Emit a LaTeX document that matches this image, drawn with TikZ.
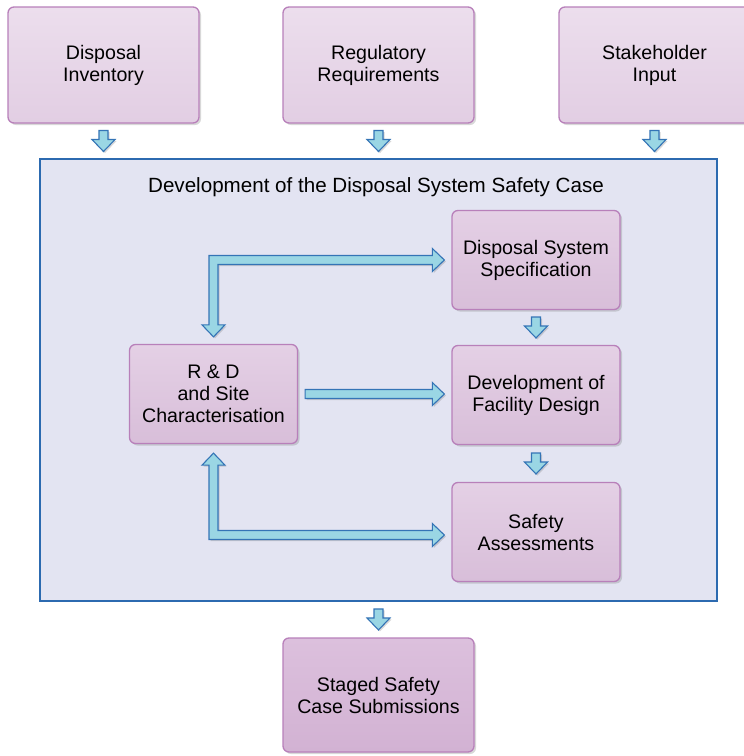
\documentclass[tikz,border=0pt]{standalone}
\usepackage{fontspec}
\setmainfont{Liberation Sans}
\usetikzlibrary{calc,shadows}
\definecolor{boxline}{RGB}{184,128,186}
\definecolor{boxtop}{RGB}{236,222,237}
\definecolor{boxbot}{RGB}{226,206,227}
\definecolor{innertop}{RGB}{228,208,229}
\definecolor{innerbot}{RGB}{216,190,217}
\definecolor{stagetop}{RGB}{220,192,221}
\definecolor{stagebot}{RGB}{210,178,211}
\definecolor{casefill}{RGB}{227,228,242}
\definecolor{caseline}{RGB}{44,106,176}
\definecolor{arrowfill}{RGB}{154,214,228}
\definecolor{arrowline}{RGB}{52,116,182}
\tikzset{
	box/.style={draw=boxline, line width=1.3pt, rounded corners=6pt, top color=boxtop, bottom color=boxbot, align=center, font=\fontsize{19.6}{22}\selectfont, drop shadow={shadow xshift=2pt, shadow yshift=-2pt, opacity=0.25, fill=black!60}},
	topbox/.style={box, minimum width=191pt, minimum height=116pt},
	innerbox/.style={box, top color=innertop, bottom color=innerbot, minimum width=168pt, minimum height=99pt},
	fatarrow/.style={draw=arrowline, fill=arrowfill, line width=1.1pt, line join=miter, drop shadow={shadow xshift=1.5pt, shadow yshift=-1.5pt, opacity=0.25, fill=black!60}},
}
\def\dnarrow#1{\draw[fatarrow, shift={#1}] (-4.5,-10.5) -- ++(9,0) -- ++(0,9) -- ++(7,0) -- ++(-11.5,12) -- ++(-11.5,-12) -- ++(7,0) -- cycle;}

\begin{document}
\begin{tikzpicture}[x=1pt, y=-1pt]
			%%%%% START %%%%%
			\useasboundingbox[fill=white] (0,0) rectangle (744,756);
			
			\node[topbox] (inv) at (103.5,65) {Disposal\\Inventory};
			\node[topbox] (reg) at (378.5,65) {Regulatory\\Requirements};
			\node[topbox] (stake) at (654.5,65) {Stakeholder\\Input};
			
			\node[draw=caseline, fill=casefill, line width=1.2pt, minimum width=677pt, minimum height=442pt] (case) at (378.5,380) {};
			\node[font=\fontsize{20.6}{23}\selectfont] (title) at (376,187) {Development of the Disposal System Safety Case};
			
			\node[innerbox] (spec) at (536,260) {Disposal System\\Specification};
			\node[innerbox] (fac) at (536,395) {Development of\\Facility Design};
			\node[innerbox] (safe) at (536,532) {Safety\\Assessments};
			\node[innerbox] (rd) at (213.5,394) {R \& D\\and Site\\Characterisation};
			
			\node[topbox, top color=stagetop, bottom color=stagebot, minimum height=114pt] (staged) at (378.5,695) {Staged Safety\\Case Submissions};
			
			% inputs and output
			\dnarrow{($(inv.south)!0.5!(inv.south|-case.north)$)}
			\dnarrow{($(reg.south)!0.5!(reg.south|-case.north)$)}
			\dnarrow{($(stake.south)!0.5!(stake.south|-case.north)$)}
			\dnarrow{($(case.south)!0.5!(staged.north)$)}
			\dnarrow{($(spec.south)!0.5!(fac.north)$)}
			\dnarrow{($(fac.south)!0.5!(safe.north)$)}
			
			% R & D links
			\coordinate (u1) at ($(rd.north)+(0,-7)$);
			\coordinate (u2) at ($(spec.west)+(-7,0)$);
			\draw[fatarrow] (u1) -- ($(u1)+(-11.5,-12)$) -- ($(u1)+(-4.5,-12)$) -- ($(u1|-u2)+(-4.5,-4.5)$) -- ($(u2)+(-12,-4.5)$) -- ($(u2)+(-12,-11.5)$) -- (u2) -- ($(u2)+(-12,11.5)$) -- ($(u2)+(-12,4.5)$) -- ($(u1|-u2)+(4.5,4.5)$) -- ($(u1)+(4.5,-12)$) -- ($(u1)+(11.5,-12)$) -- cycle;
			
			\coordinate (m1) at ($(rd.east)+(7,0)$);
			\coordinate (m2) at ($(fac.west|-rd.east)+(-7,0)$);
			\draw[fatarrow] ($(m1)+(0,-4.5)$) -- ($(m2)+(-12,-4.5)$) -- ($(m2)+(-12,-11.5)$) -- (m2) -- ($(m2)+(-12,11.5)$) -- ($(m2)+(-12,4.5)$) -- ($(m1)+(0,4.5)$) -- cycle;
			
			\coordinate (l1) at ($(rd.south)+(0,9)$);
			\coordinate (l2) at ($(safe.west)+(-7,3)$);
			\draw[fatarrow] (l1) -- ($(l1)+(11.5,12)$) -- ($(l1)+(4.5,12)$) -- ($(l1|-l2)+(4.5,-4.5)$) -- ($(l2)+(-12,-4.5)$) -- ($(l2)+(-12,-11.5)$) -- (l2) -- ($(l2)+(-12,11.5)$) -- ($(l2)+(-12,4.5)$) -- ($(l1|-l2)+(-4.5,4.5)$) -- ($(l1)+(-4.5,12)$) -- ($(l1)+(-11.5,12)$) -- cycle;
			
			%%%%% END %%%%%
\end{tikzpicture}
\end{document}
